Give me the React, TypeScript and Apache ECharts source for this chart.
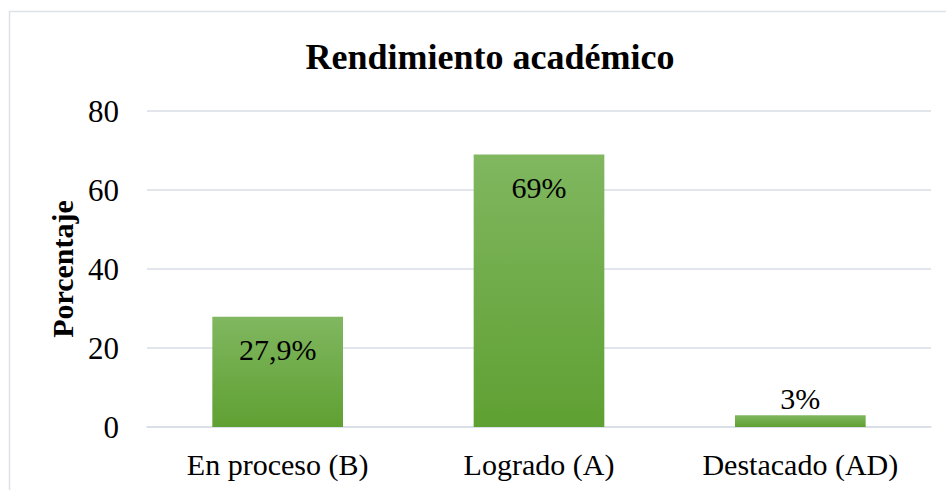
import React, { useEffect, useRef } from "react";
import * as echarts from "echarts";

const categories = ["En proceso (B)", "Logrado (A)", "Destacado (AD)"];
const values = [27.9, 69, 3];
const labels = ["27,9%", "69%", "3%"];
const labelInside = [true, true, false];
const yTicks = { min: 0, max: 80, interval: 20 };

const FONT = "Liberation Serif";

export default function App() {
  const ref = useRef<HTMLDivElement>(null);
  useEffect(() => {
    if (!ref.current) return;
    const chart = echarts.init(ref.current, undefined, { renderer: "svg" });
    const grad = new echarts.graphic.LinearGradient(0, 0, 0, 1, [
      { offset: 0, color: "#80b760" },
      { offset: 1, color: "#5fa032" },
    ]);
    chart.setOption({
      animation: false,
      backgroundColor: "#ffffff",
      textStyle: { fontFamily: FONT },
      title: {
        text: "Rendimiento académico",
        left: 485,
        textAlign: "center",
        top: 34,
        textStyle: { fontFamily: FONT, fontSize: 36, fontWeight: "bold", color: "#000" },
      },
      graphic: [
        {
          type: "rect",
          shape: { x: 9.5, y: 11.5, width: 960, height: 500 },
          style: { fill: "none", stroke: "#dde1e8", lineWidth: 1.5 },
          silent: true,
        },
      ],
      grid: { left: 147, right: 15, top: 111, bottom: 63, containLabel: false },
      xAxis: {
        type: "category",
        data: categories,
        axisLine: { show: true, lineStyle: { color: "#d9dde6", width: 1.5 } },
        axisTick: { show: false },
        axisLabel: { fontFamily: FONT, fontSize: 30, color: "#000", margin: 22 },
      },
      yAxis: {
        type: "value",
        min: yTicks.min,
        max: yTicks.max,
        interval: yTicks.interval,
        name: "Porcentaje",
        nameLocation: "middle",
        nameGap: 66,
        nameTextStyle: { fontFamily: FONT, fontSize: 30, fontWeight: "bold", color: "#000" },
        axisLine: { show: false },
        axisTick: { show: false },
        splitLine: { lineStyle: { color: "#d9dde6", width: 1.5 } },
        axisLabel: { fontFamily: FONT, fontSize: 31, color: "#000", margin: 28 },
      },
      series: [
        {
          type: "bar",
          barCategoryGap: "50%",
          data: values.map((v, i) => ({
            value: v,
            label: {
              show: true,
              position: labelInside[i] ? "insideTop" : "top",
              distance: labelInside[i] ? 18 : 2,
              formatter: labels[i],
              fontFamily: FONT,
              fontSize: 30,
              color: "#000",
            },
          })),
          itemStyle: { color: grad },
        },
      ],
    });
    return () => chart.dispose();
  }, []);
  return (
    <div
      ref={ref}
      style={{ position: "fixed", left: 0, top: 0, width: 946, height: 490 }}
    />
  );
}
